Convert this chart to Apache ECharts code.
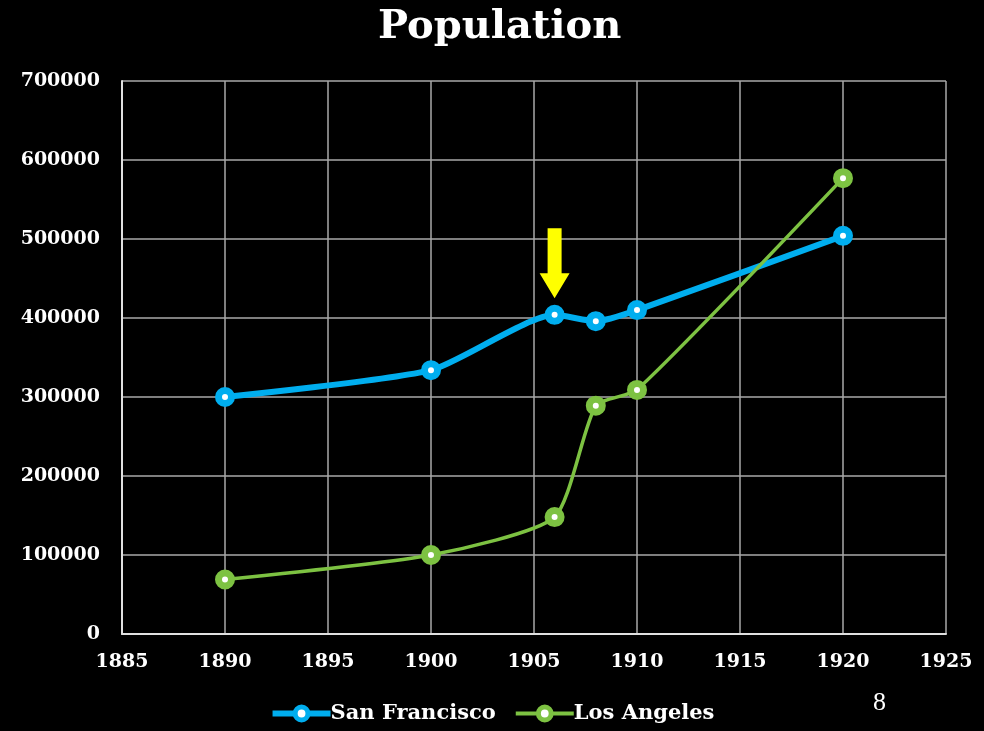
<!DOCTYPE html>
<html><head><meta charset="utf-8">
<script src="https://cdn.jsdelivr.net/npm/echarts@6/dist/echarts.min.js"></script>
<style>html,body{margin:0;padding:0;background:#000;}#c{width:984px;height:731px;}</style>
</head><body><div id="c"></div>
<script>
const years = [1890, 1900, 1906, 1908, 1910, 1920];
const sanFrancisco = [300000, 334000, 404000, 396000, 410000, 504000];
const losAngeles = [69000, 100000, 148000, 289000, 309000, 577000];
const seriesNames = ['San Francisco', 'Los Angeles'];
const arrowAt = [1906, 425000];

const F = 'DejaVu Serif';
const sfColor = '#00aeef';
const laColor = '#7dc242';
const chart = echarts.init(document.getElementById('c'), null, {renderer: 'canvas'});
chart.setOption({
  backgroundColor: '#000',
  animation: false,
  title: {text: 'Population', left: 373, top: 3,
    textStyle: {color: '#fff', fontFamily: F, fontWeight: 'bold', fontSize: 40}},
  legend: {bottom: 2, left: 'center', itemWidth: 58, itemHeight: 16, itemGap: 18,
    textStyle: {color: '#fff', fontFamily: F, fontWeight: 'bold', fontSize: 21, padding: [0,0,0,-5]},
    data: [
      {name: seriesNames[0], lineStyle: {width: 6}, itemStyle: {borderWidth: 5}},
      {name: seriesNames[1], lineStyle: {width: 4}, itemStyle: {borderWidth: 5}}
    ]},
  grid: {left: 122, right: 38, top: 81, bottom: 97},
  xAxis: {type: 'value', min: 1885, max: 1925, interval: 5,
    axisLine: {lineStyle: {color: '#e0e0e0', width: 2}},
    axisTick: {show: false},
    splitLine: {lineStyle: {color: '#a8a8a8', width: 1.5}},
    axisLabel: {color: '#fff', fontFamily: F, fontWeight: 'bold', fontSize: 19, margin: 19,
      formatter: v => String(v)}},
  yAxis: {type: 'value', min: 0, max: 700000, interval: 100000,
    axisLine: {show: true, lineStyle: {color: '#e0e0e0', width: 2}},
    axisTick: {show: false},
    splitLine: {lineStyle: {color: '#a8a8a8', width: 1.5}},
    axisLabel: {color: '#fff', fontFamily: F, fontWeight: 'bold', fontSize: 19, margin: 22,
      formatter: v => String(v)}},
  series: [
    {name: seriesNames[0], type: 'line', smooth: 0.2, color: sfColor,
     data: years.map((y, i) => [y, sanFrancisco[i]]),
     lineStyle: {color: sfColor, width: 6},
     symbol: 'circle', symbolSize: 13,
     itemStyle: {color: '#fff', borderColor: sfColor, borderWidth: 7},
     markPoint: {silent: true, symbol: 'path://M8,0 L22,0 L22,45 L30,45 L15,70 L0,45 L8,45 Z',
       symbolSize: [30, 70], symbolOffset: [0, -35], itemStyle: {color: '#ffff00', borderWidth: 0},
       label: {show: false}, data: [{coord: arrowAt}]}},
    {name: seriesNames[1], type: 'line', smooth: 0.2, color: laColor,
     data: years.map((y, i) => [y, losAngeles[i]]),
     lineStyle: {color: laColor, width: 3.5},
     symbol: 'circle', symbolSize: 13,
     itemStyle: {color: '#fff', borderColor: laColor, borderWidth: 7}}
  ],
  graphic: [{type: 'text', left: 873, top: 690,
    style: {text: '8', fill: '#fff', font: '26px "Liberation Serif"'}}]
});
</script></body></html>
